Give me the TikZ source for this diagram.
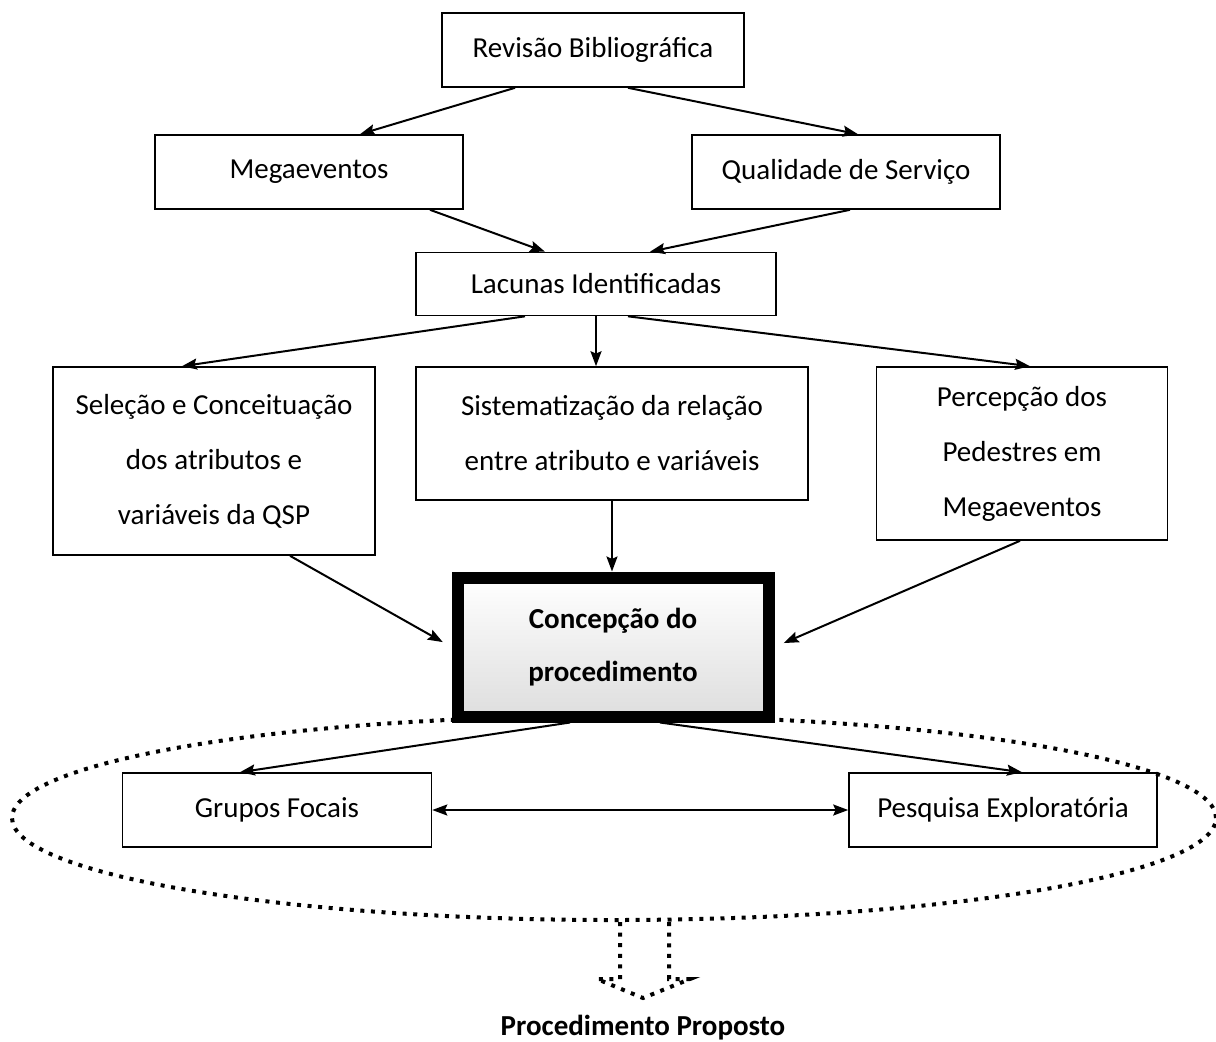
\documentclass[tikz,border=0pt]{standalone}
\usepackage{fontspec}
\setmainfont{Carlito}
\usepackage{tikz}
\usetikzlibrary {positioning}
\usetikzlibrary {arrows.meta}
\usetikzlibrary {shapes.geometric}

\begin{document}
\begin{tikzpicture}[x=0.5pt, y=-0.5pt,
	box/.style={draw, line width=0.8pt, align=center, inner sep=0pt, font=\fontsize{14.5}{27.5}\selectfont},
	link/.style={line width=1pt, -{Stealth[length=7.5pt,width=5.5pt,inset=1.2pt]}},
	twolink/.style={line width=1pt, {Stealth[length=7.5pt,width=5.5pt,inset=1.2pt]}-{Stealth[length=7.5pt,width=5.5pt,inset=1.2pt]}},
	dots/.style={line width=2pt, dash pattern=on 2pt off 3.3pt}]
	\useasboundingbox (0,0) rectangle (1216,1041);
	\node[box, minimum width=151pt, minimum height=37pt] (rev) at (593,50) {Revisão Bibliográfica};
	\node[box, minimum width=154pt, minimum height=37pt] (mega) at (309,172) {Megaeventos};
	\node[box, minimum width=154pt, minimum height=37pt] (qual) at (846,172) {Qualidade de Serviço};
	\node[box, minimum width=180pt, minimum height=31.5pt] (lac) at (596,284) {Lacunas Identificadas};
	\node[box, minimum width=161pt, minimum height=94pt] (sel) at (214,461) {Seleção e Conceituação\\dos atributos e\\variáveis da QSP};
	\node[box, minimum width=196pt, minimum height=66.5pt] (sis) at (612,433.5) {Sistematização da relação\\entre atributo e variáveis};
	\node[box, minimum width=145.5pt, minimum height=86.5pt] (per) at (1022,453.5) {Percepção dos\\Pedestres em\\Megaeventos};
	\node[box, line width=6pt, minimum width=155.5pt, minimum height=69.5pt, top color=white, bottom color=black!13, font=\fontsize{14.5}{26.5}\selectfont\bfseries] (conc) at (613,647) {Concepção do\\procedimento};
	\node[box, minimum width=154.5pt, minimum height=37pt] (grp) at (277,810) {Grupos Focais};
	\node[box, minimum width=154pt, minimum height=37pt] (pes) at (1003,810) {Pesquisa Exploratória};
	\node[ellipse, draw, dots, minimum width=602pt, minimum height=102pt, inner sep=0pt] (ell) at (614,818) {};
	\node[font=\fontsize{14.5}{17}\selectfont\bfseries] (proc) at (643,1028) {Procedimento Proposto};
	\draw[link] ([xshift=-39pt]rev.south) -- ([xshift=25.5pt]mega.north);
	\draw[link] ([xshift=17.5pt]rev.south) -- ([xshift=6pt]qual.north);
	\draw[link] ([xshift=60.5pt]mega.south) -- ([xshift=-25.5pt]lac.north);
	\draw[link] ([xshift=2pt]qual.south) -- ([xshift=27pt]lac.north);
	\draw[link] ([xshift=-35.5pt]lac.south) -- ([xshift=-16pt]sel.north);
	\draw[link] (lac.south) -- (lac.south |- sis.north);
	\draw[link] ([xshift=16pt]lac.south) -- ([xshift=4pt]per.north);
	\draw[link] (sis.south) -- (sis.south |- conc.north);
	\draw[link, shorten >=5pt] ([xshift=38pt]sel.south) -- (conc.west);
	\draw[link, shorten >=5pt] ([xshift=-1pt]per.south) -- (conc.east);
	\draw[link] ([xshift=-21.5pt]conc.south) -- ([xshift=-18.5pt]grp.north);
	\draw[link] ([xshift=23.5pt]conc.south) -- ([xshift=9.5pt]pes.north);
	\draw[twolink] (grp) -- (pes);
	\draw[dots] ([xshift=3pt]ell.south) -- ++(0,57) -- ++(-23,0) -- ++(46,19) -- ++(47,-19) -- ++(-21,0) -- ++(0,-57);
\end{tikzpicture}
\end{document}
